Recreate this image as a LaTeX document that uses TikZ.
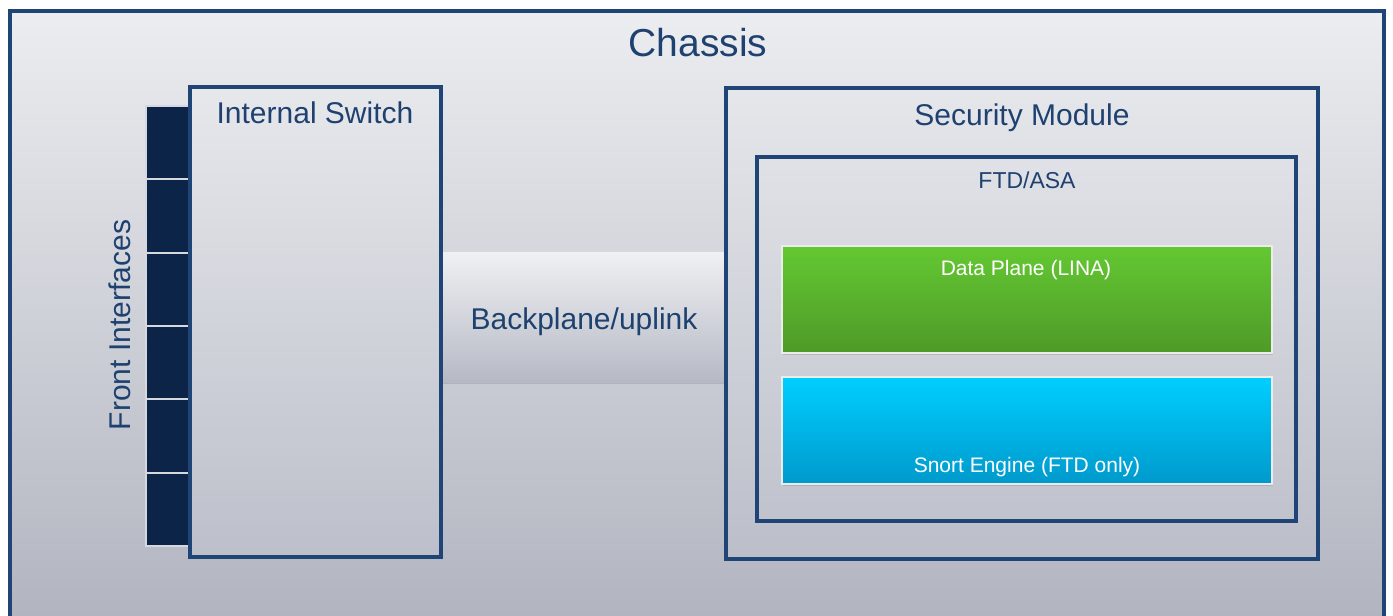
\documentclass[tikz,border=0pt]{standalone}
\usepackage{fontspec}
\setmainfont{Liberation Sans}
\usetikzlibrary{shadows}
\definecolor{cborder}{HTML}{1F4577}
\definecolor{ctext}{HTML}{1E416F}
\definecolor{navy}{HTML}{0D2449}
\definecolor{bgtop}{HTML}{ECEDF0}
\definecolor{bgbot}{HTML}{B6B9C5}
\definecolor{celline}{HTML}{D5D8DE}
\definecolor{gtop}{HTML}{64C832}
\definecolor{gbot}{HTML}{4E9A28}
\definecolor{ctop}{HTML}{00CFFF}
\definecolor{cbot}{HTML}{0099CC}
\begin{document}
\begin{tikzpicture}[x=1pt,y=-1pt,
  box/.style={draw=cborder, line width=4pt, inner sep=0pt, outer sep=0pt, anchor=north west,
    drop shadow={shadow xshift=1.5pt, shadow yshift=-2pt, opacity=0.3}},
  cell/.style={fill=navy, draw=celline, line width=2pt, inner sep=0pt, outer sep=0pt, anchor=north west,
    minimum width=43pt, minimum height=73.33pt},
  engine/.style={draw=white!85!gray, line width=1.5pt, inner sep=0pt, outer sep=0pt, anchor=north west,
    minimum width=490pt, minimum height=107pt,
    drop shadow={shadow xshift=1pt, shadow yshift=-1.5pt, opacity=0.3}},
  lbl/.style={text=ctext, inner sep=0pt, anchor=base},
  wlbl/.style={text=white, inner sep=0pt, anchor=base, font=\fontsize{21}{24}\selectfont}]
\useasboundingbox (0,0) rectangle (1393,616);
\clip (0,0) rectangle (1393,616);
\fill[white] (0,0) rectangle (1393,616);
% chassis
\node[box, line width=4.5pt, minimum width=1374pt, minimum height=620pt,
  top color=bgtop, bottom color=bgbot!97!black] (chassis) at (10,11) {};
% backplane band
\node[inner sep=0pt, outer sep=0pt, anchor=north west, minimum width=285pt, minimum height=130pt,
  top color=bgtop!80!white, bottom color=bgbot,
  drop shadow={shadow xshift=0pt, shadow yshift=-2pt, opacity=0.3}] (backplane) at (441,252) {};
% front interfaces
\foreach \i in {0,...,5}{
  \node[cell] (if\i) at (146,{106+73.33*\i}) {};
}
% internal switch
\node[box, minimum width=251pt, minimum height=470pt,
  top color=bgbot!10!bgtop, bottom color=bgbot!88!bgtop] (switch) at (190,87) {};
% security module
\node[box, minimum width=592pt, minimum height=471pt,
  top color=bgbot!12!bgtop, bottom color=bgbot!90!bgtop] (secmod) at (726,88) {};
% FTD/ASA
\node[box, minimum width=539pt, minimum height=364pt,
  top color=bgbot!22!bgtop, bottom color=bgbot!82!bgtop] (ftd) at (757,157) {};
% engines
\node[engine, top color=gtop, bottom color=gbot] (lina) at (782,246) {};
\node[engine, top color=ctop, bottom color=cbot] (snort) at (782,377) {};
% labels
\node[lbl, font=\fontsize{39}{44}\selectfont] (tchassis) at (698,56.5) {Chassis};
\node[lbl, font=\fontsize{30}{34}\selectfont] (tswitch) at (315,123) {Internal Switch};
\node[lbl, font=\fontsize{30}{34}\selectfont] (tsec) at (1022,125.5) {Security Module};
\node[lbl, font=\fontsize{23}{26}\selectfont] (tftd) at (1027,188.5) {FTD/ASA};
\node[lbl, font=\fontsize{30}{34}\selectfont] (tback) at (584,329) {Backplane/uplink};
\node[lbl, font=\fontsize{30}{34}\selectfont, rotate=90] (tfront) at (130,325) {Front Interfaces};
\node[wlbl] (tlina) at (1026,275) {Data Plane (LINA)};
\node[wlbl] (tsnort) at (1027,472) {Snort Engine (FTD only)};
\end{tikzpicture}
\end{document}
